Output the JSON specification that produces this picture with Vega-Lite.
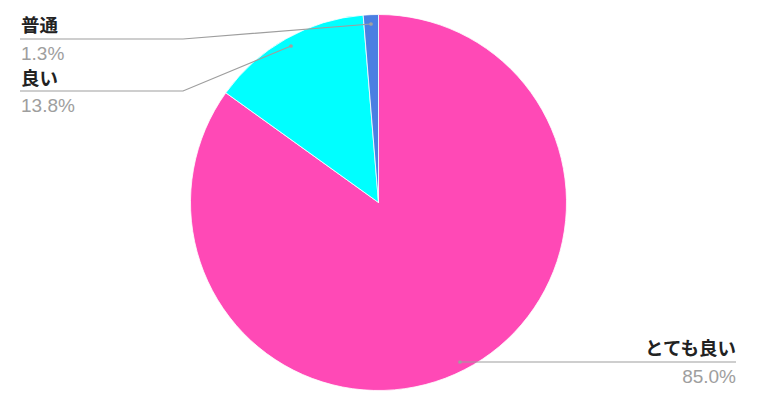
{
  "$schema": "https://vega.github.io/schema/vega-lite/v6.json",
  "description": "Pie chart: とても良い / 良い / 普通",
  "width": 757,
  "height": 416,
  "autosize": {"type": "fit", "contains": "padding"},
  "padding": 0,
  "background": "white",
  "config": {"view": {"stroke": null}},
  "datasets": {
    "slices": [
      {"label": "とても良い", "value": 85.0, "o": 1},
      {"label": "良い", "value": 13.8, "o": 2},
      {"label": "普通", "value": 1.3, "o": 3}
    ],
    "leaders": [
      {"label": "普通", "i": 1, "x": 371, "y": 24},
      {"label": "普通", "i": 2, "x": 183, "y": 39},
      {"label": "普通", "i": 3, "x": 20, "y": 39},
      {"label": "良い", "i": 1, "x": 291, "y": 46},
      {"label": "良い", "i": 2, "x": 183, "y": 91},
      {"label": "良い", "i": 3, "x": 20, "y": 91},
      {"label": "とても良い", "i": 1, "x": 460, "y": 362},
      {"label": "とても良い", "i": 2, "x": 736, "y": 362}
    ],
    "labels": [
      {"label": "普通", "pct": "1.3%", "side": "left", "x": 21, "ly": 32, "py": 60},
      {"label": "良い", "pct": "13.8%", "side": "left", "x": 21, "ly": 85, "py": 112},
      {"label": "とても良い", "pct": "85.0%", "side": "right", "x": 736, "ly": 355, "py": 383}
    ]
  },
  "layer": [
    {
      "data": {"name": "slices"},
      "mark": {"type": "arc", "radius": 188, "stroke": "#ffffff", "strokeWidth": 0.8},
      "encoding": {
        "x": {"datum": 378.5, "type": "quantitative", "scale": {"domain": [0, 757], "nice": false, "zero": false}, "axis": null},
        "y": {"datum": 202.5, "type": "quantitative", "scale": {"domain": [0, 416], "nice": false, "zero": false, "reverse": true}, "axis": null},
        "theta": {"field": "value", "type": "quantitative", "stack": true},
        "order": {"field": "o"},
        "color": {
          "field": "label",
          "type": "nominal",
          "scale": {"domain": ["とても良い", "良い", "普通"], "range": ["#ff49b6", "#00ffff", "#4a7fe2"]},
          "legend": null
        }
      }
    },
    {
      "data": {"name": "leaders"},
      "mark": {"type": "line", "color": "#9e9e9e", "strokeWidth": 1.2},
      "encoding": {
        "x": {"field": "x", "type": "quantitative", "scale": {"domain": [0, 757], "nice": false, "zero": false}, "axis": null},
        "y": {"field": "y", "type": "quantitative", "scale": {"domain": [0, 416], "nice": false, "zero": false, "reverse": true}, "axis": null},
        "detail": {"field": "label"},
        "order": {"field": "i"}
      }
    },
    {
      "data": {"name": "leaders"},
      "transform": [{"filter": "datum.i == 1"}],
      "mark": {"type": "circle", "color": "#a0a0a0", "size": 14, "opacity": 1},
      "encoding": {
        "x": {"field": "x", "type": "quantitative"},
        "y": {"field": "y", "type": "quantitative"}
      }
    },
    {
      "data": {"name": "labels"},
      "transform": [{"filter": "datum.side == 'left'"}],
      "layer": [
        {
          "mark": {"type": "text", "align": "left", "baseline": "alphabetic", "font": "Noto Sans CJK JP", "fontWeight": "bold", "fontSize": 18.5, "color": "#222222"},
          "encoding": {
            "x": {"field": "x", "type": "quantitative"},
            "y": {"field": "ly", "type": "quantitative"},
            "text": {"field": "label"}
          }
        },
        {
          "mark": {"type": "text", "align": "left", "baseline": "alphabetic", "font": "Liberation Sans", "fontSize": 19, "color": "#9e9e9e"},
          "encoding": {
            "x": {"field": "x", "type": "quantitative"},
            "y": {"field": "py", "type": "quantitative"},
            "text": {"field": "pct"}
          }
        }
      ]
    },
    {
      "data": {"name": "labels"},
      "transform": [{"filter": "datum.side == 'right'"}],
      "layer": [
        {
          "mark": {"type": "text", "align": "right", "baseline": "alphabetic", "font": "Noto Sans CJK JP", "fontWeight": "bold", "fontSize": 18.5, "color": "#222222"},
          "encoding": {
            "x": {"field": "x", "type": "quantitative"},
            "y": {"field": "ly", "type": "quantitative"},
            "text": {"field": "label"}
          }
        },
        {
          "mark": {"type": "text", "align": "right", "baseline": "alphabetic", "font": "Liberation Sans", "fontSize": 19, "color": "#9e9e9e"},
          "encoding": {
            "x": {"field": "x", "type": "quantitative"},
            "y": {"field": "py", "type": "quantitative"},
            "text": {"field": "pct"}
          }
        }
      ]
    }
  ]
}
